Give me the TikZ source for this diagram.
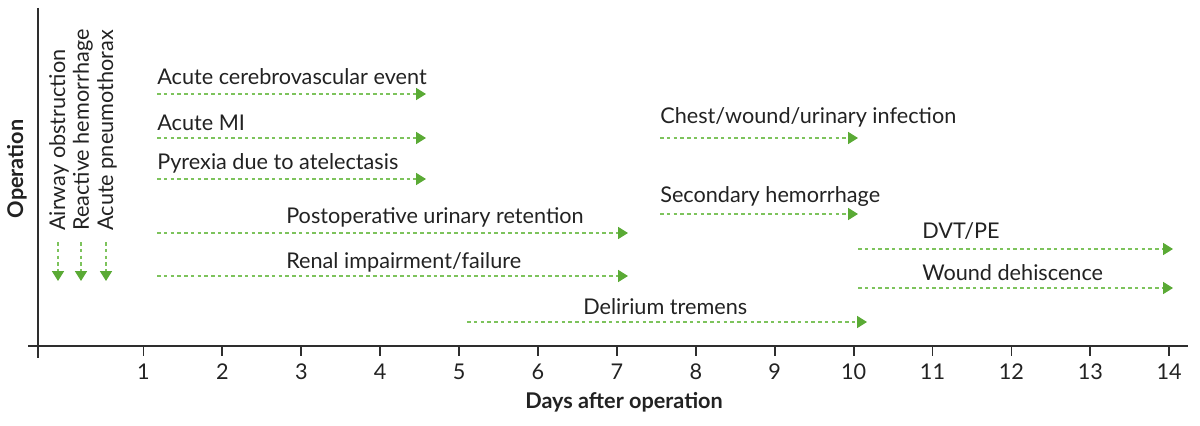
\documentclass[tikz,border=0pt]{standalone}
\usepackage{fontspec}
\setmainfont{Lato}
\usetikzlibrary{arrows.meta}
\definecolor{tipgreen}{HTML}{5AAA35}
\definecolor{dashgreen}{HTML}{7DC35C}
\definecolor{inkgray}{HTML}{222222}
\tikzset{
  risk/.style={dashgreen, line width=0.9pt, dash pattern=on 2.6pt off 2.2pt,
    -{Triangle[length=7pt,width=8.5pt,color=tipgreen,fill=tipgreen]}},
  lbl/.style={font=\fontsize{15.4}{18}\selectfont, text=inkgray, inner sep=0pt},
  axisline/.style={line width=1.6pt, black!82},
}
\begin{document}
\begin{tikzpicture}[x=0.025cm,y=-0.025cm]
    \useasboundingbox (0,0) rectangle (1200,426);

    % axes
    \coordinate (ytop) at (38,8);
    \coordinate (ybot) at (38,358);
    \coordinate (xleft) at (28,346);
    \coordinate (xright) at (1188,346);
    \draw[axisline] (ytop) -- (ybot);
    \draw[axisline] (xleft) -- (xright);
    \foreach \d in {1,...,14}{
        \draw[axisline, line width=1.3pt] ({143.5+78.9*(\d-1)},346) -- ++(0,10);
        \node[lbl] (tick\d) at ({143.5+78.9*(\d-1)},372) {\d};
    }
    \node[lbl, font=\fontsize{15.4}{18}\selectfont\bfseries, rotate=90] (oplabel) at (17,169) {Operation};
    \node[lbl, font=\fontsize{15.4}{18}\selectfont\bfseries] (daylabel) at (624,402) {Days after operation};

    % immediate
    \node[lbl, rotate=90, anchor=west] (airway) at (59,231) {Airway obstruction};
    \node[lbl, rotate=90, anchor=west] (reactive) at (83,231) {Reactive hemorrhage};
    \node[lbl, rotate=90, anchor=west] (pneumo) at (107,231) {Acute pneumothorax};
    \coordinate (airway-s) at (58,242);  \coordinate (airway-e) at (58,281);
    \coordinate (reactive-s) at (81,242);  \coordinate (reactive-e) at (81,281);
    \coordinate (pneumo-s) at (106,242);  \coordinate (pneumo-e) at (106,281);
    \draw[risk] (airway-s) -- (airway-e);
    \draw[risk] (reactive-s) -- (reactive-e);
    \draw[risk] (pneumo-s) -- (pneumo-e);

    % early
    \node[lbl, anchor=west] (cva) at (157,77) {Acute cerebrovascular event};
    \coordinate (cva-s) at (157,94);  \coordinate (cva-e) at (426,94);
    \draw[risk] (cva-s) -- (cva-e);
    \node[lbl, anchor=west] (mi) at (157,123) {Acute MI};
    \coordinate (mi-s) at (157,138);  \coordinate (mi-e) at (426,138);
    \draw[risk] (mi-s) -- (mi-e);
    \node[lbl, anchor=west] (pyrexia) at (157,163) {Pyrexia due to atelectasis};
    \coordinate (pyrexia-s) at (157,179);  \coordinate (pyrexia-e) at (426,179);
    \draw[risk] (pyrexia-s) -- (pyrexia-e);
    \node[lbl, anchor=west] (retention) at (286,217) {Postoperative urinary retention};
    \coordinate (retention-s) at (157,233);  \coordinate (retention-e) at (628,233);
    \draw[risk] (retention-s) -- (retention-e);
    \node[lbl, anchor=west] (renal) at (286,262) {Renal impairment/failure};
    \coordinate (renal-s) at (157,276);  \coordinate (renal-e) at (628,276);
    \draw[risk] (renal-s) -- (renal-e);
    \node[lbl, anchor=west] (delirium) at (583,307) {Delirium tremens};
    \coordinate (delirium-s) at (467,322);  \coordinate (delirium-e) at (867,322);
    \draw[risk] (delirium-s) -- (delirium-e);

    % late
    \node[lbl, anchor=west] (infection) at (660,117) {Chest/wound/urinary infection};
    \coordinate (infection-s) at (660,138);  \coordinate (infection-e) at (858,138);
    \draw[risk] (infection-s) -- (infection-e);
    \node[lbl, anchor=west] (secondary) at (660,196) {Secondary hemorrhage};
    \coordinate (secondary-s) at (660,214);  \coordinate (secondary-e) at (858,214);
    \draw[risk] (secondary-s) -- (secondary-e);
    \node[lbl, anchor=west] (dvt) at (922,231) {DVT/PE};
    \coordinate (dvt-s) at (858,249);  \coordinate (dvt-e) at (1173,249);
    \draw[risk] (dvt-s) -- (dvt-e);
    \node[lbl, anchor=west] (dehiscence) at (922,273) {Wound dehiscence};
    \coordinate (dehiscence-s) at (858,288);  \coordinate (dehiscence-e) at (1173,288);
    \draw[risk] (dehiscence-s) -- (dehiscence-e);
\end{tikzpicture}
\end{document}
